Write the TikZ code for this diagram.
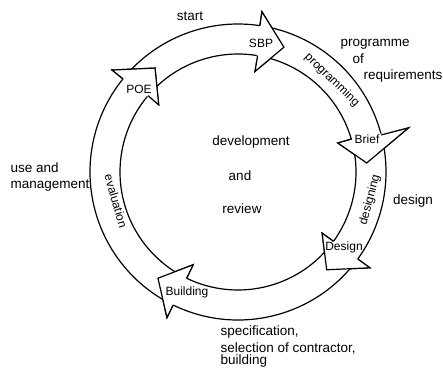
\documentclass[tikz,border=0pt]{standalone}
\usepackage{fontspec}
\setmainfont{Liberation Sans}
% ring radii
\def\ro{148pt}
\def\ri{118pt}
% band of one cycle step with its arrow head:
% #1 start angle, #2/#3 outer barb, #4/#5 tip, #6/#7 inner barb (angle/radius)
\newcommand\ringband[7]{%
  \filldraw[fill=white] (#1:\ro) arc[start angle=#1, end angle=#2, radius=\ro]
    -- (#2:#3) -- (#4:#5) -- (#6:#7) -- (#6:\ri)
    arc[start angle=#6, end angle=#1, radius=\ri] -- cycle;}
% arrow head redrawn on top, hiding the tail of the following band
\newcommand\ringhead[6]{%
  \fill[white] (#1:#2) -- (#3:#4) -- (#5:#6) -- cycle;
  \draw (#1:\ro) -- (#1:#2) -- (#3:#4) -- (#5:#6) -- (#5:\ri);}
\begin{document}
\begin{tikzpicture}[x=1pt,y=1pt,line width=1.2pt,line join=miter,
  lbl/.style={inner sep=0pt,font=\fontsize{13.5}{16}\selectfont},
  headlbl/.style={inner sep=0pt,font=\fontsize{12}{14}\selectfont},
  bandlbl/.style={inner sep=0pt,font=\fontsize{12}{14}\selectfont}]
\useasboundingbox (-238,-200) rectangle (205,172);
% bands
\ringband{138}{81.5}{162pt}{69.8}{133pt}{80.4}{102pt}
\ringband{79}{14.5}{176pt}{4}{129pt}{16.2}{104pt}
\ringband{13}{-36}{163pt}{-47.8}{132pt}{-36}{104pt}
\ringband{-38}{-116}{162pt}{-127}{133pt}{-115.8}{103pt}
\ringband{-118}{-219}{162pt}{-231.4}{133pt}{-220.3}{104pt}
% heads
\ringhead{81.5}{162pt}{69.8}{133pt}{80.4}{102pt}
\ringhead{14.5}{176pt}{4}{129pt}{16.2}{104pt}
\ringhead{-36}{163pt}{-47.8}{132pt}{-36}{104pt}
\ringhead{-116}{162pt}{-127}{133pt}{-115.8}{103pt}
\ringhead{-219}{162pt}{-231.4}{133pt}{-220.3}{104pt}
% stage labels in the heads
\node[headlbl] (sbp) at (23,129) {SBP};
\node[headlbl] (brief) at (129,33) {Brief};
\node[headlbl] (design) at (106,-75) {Design};
\node[headlbl] (building) at (-51,-120) {Building};
\node[headlbl] (poe) at (-99,83) {POE};
% activity labels along the bands
\node[bandlbl,rotate=-44] (programming) at (94,92) {programming};
\node[bandlbl,rotate=75] (designing) at (132,-28) {designing};
\node[bandlbl,rotate=-74] (evaluation) at (-122,-29) {evaluation};
% centre
\node[lbl] (development) at (13,30) {development};
\node[lbl] (and) at (2,-4) {and};
\node[lbl] (review) at (4,-37) {review};
% phase labels outside
\node[lbl] (start) at (-48,156) {start};
\node[lbl,anchor=west] (programme) at (102,128) {programme};
\node[lbl,anchor=west] (of) at (114,113) {of};
\node[lbl,anchor=west] (requirements) at (125,96) {requirements};
\node[lbl] (designphase) at (175,-29) {design};
\node[lbl,anchor=west] (useand) at (-228,4) {use and};
\node[lbl,anchor=west] (management) at (-228,-14) {management};
\node[lbl,anchor=west] (spec) at (-18,-160) {specification,};
\node[lbl,anchor=west] (selection) at (-18,-176) {selection of contractor,};
\node[lbl,anchor=west] (buildingphase) at (-18,-189) {building};
\end{tikzpicture}
\end{document}
